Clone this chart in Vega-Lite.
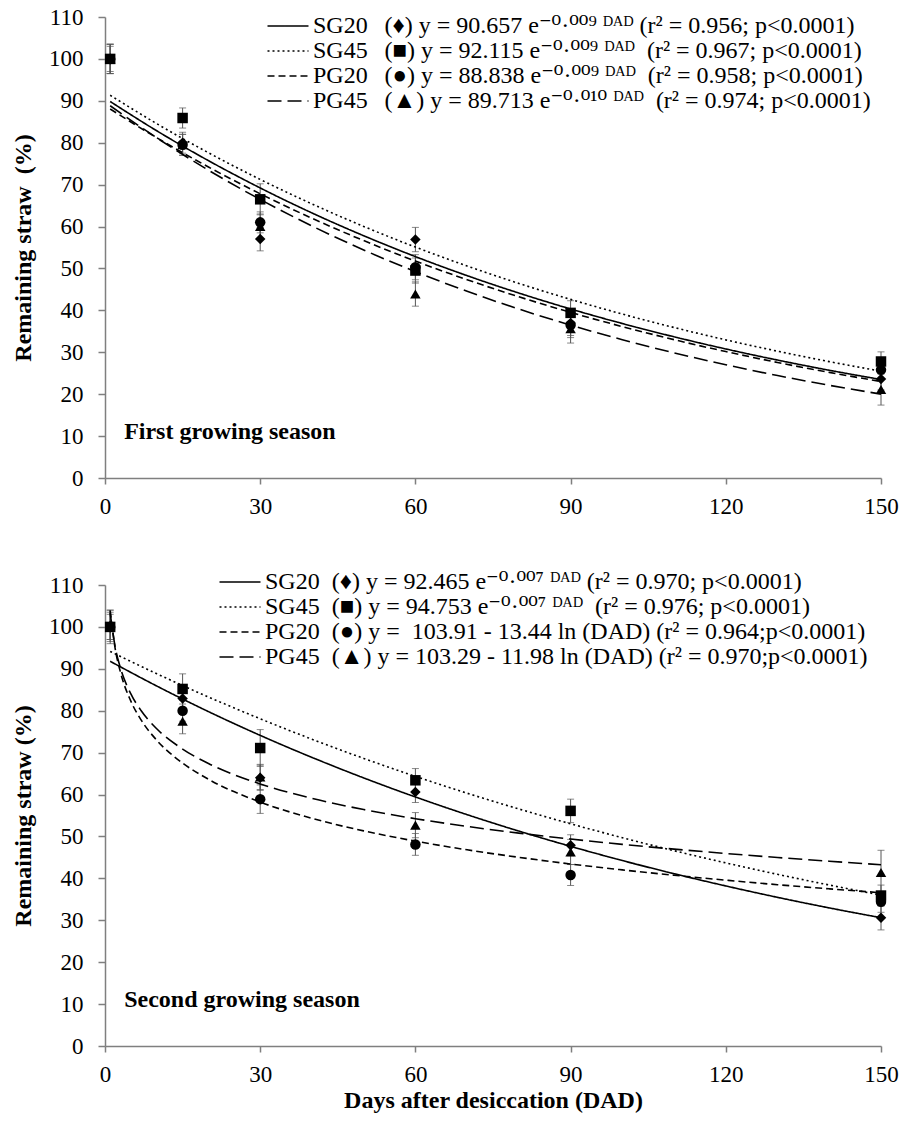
{
  "$schema": "https://vega.github.io/schema/vega-lite/v6.json",
  "autosize": {"type": "pad"},
  "padding": {"left": 11, "top": 6, "right": 5, "bottom": 5},
  "bounds": "flush",
  "spacing": 107,
  "background": "white",
  "config": {
    "view": {"stroke": null},
    "font": "'Liberation Serif', 'Times New Roman', serif",
    "axis": {"grid": false, "domainColor": "#7f7f7f", "domainWidth": 1.5, "tickColor": "#7f7f7f", "tickWidth": 1.5, "labelColor": "#000", "labelFont": "'Liberation Serif', 'Times New Roman', serif", "labelFontSize": 23, "titleFont": "'Liberation Serif', 'Times New Roman', serif", "titleFontSize": 24, "titleFontWeight": "bold", "titleColor": "#000"},
    "axisX": {"tickSize": 6, "labelPadding": 11, "labelFlush": false},
    "axisY": {"tickSize": 7, "labelPadding": 15, "titlePadding": 13},
    "legend": {"labelFont": "'Liberation Serif', 'DejaVu Serif', serif", "labelFontSize": 24, "labelColor": "#000", "labelLimit": 2000, "symbolType": "M-2.05,0H2.05", "symbolSize": 400, "symbolStrokeWidth": 1.6, "symbolStrokeColor": "#000", "labelOffset": 13, "rowPadding": 1, "padding": 0}
  },
  "datasets": {
    "curves": [
      {"panel":"First","series":"SG20","day":1,"value":89.84},{"panel":"First","series":"SG20","day":10,"value":82.85},{"panel":"First","series":"SG20","day":20,"value":75.72},{"panel":"First","series":"SG20","day":30,"value":69.21},{"panel":"First","series":"SG20","day":40,"value":63.25},{"panel":"First","series":"SG20","day":50,"value":57.81},{"panel":"First","series":"SG20","day":60,"value":52.83},{"panel":"First","series":"SG20","day":70,"value":48.28},{"panel":"First","series":"SG20","day":80,"value":44.13},{"panel":"First","series":"SG20","day":90,"value":40.33},{"panel":"First","series":"SG20","day":100,"value":36.86},{"panel":"First","series":"SG20","day":110,"value":33.69},{"panel":"First","series":"SG20","day":120,"value":30.79},{"panel":"First","series":"SG20","day":130,"value":28.14},{"panel":"First","series":"SG20","day":140,"value":25.71},{"panel":"First","series":"SG20","day":150,"value":23.50},
      {"panel":"First","series":"SG45","day":1,"value":91.33},{"panel":"First","series":"SG45","day":10,"value":84.55},{"panel":"First","series":"SG45","day":20,"value":77.61},{"panel":"First","series":"SG45","day":30,"value":71.24},{"panel":"First","series":"SG45","day":40,"value":65.40},{"panel":"First","series":"SG45","day":50,"value":60.03},{"panel":"First","series":"SG45","day":60,"value":55.10},{"panel":"First","series":"SG45","day":70,"value":50.58},{"panel":"First","series":"SG45","day":80,"value":46.43},{"panel":"First","series":"SG45","day":90,"value":42.62},{"panel":"First","series":"SG45","day":100,"value":39.12},{"panel":"First","series":"SG45","day":110,"value":35.91},{"panel":"First","series":"SG45","day":120,"value":32.96},{"panel":"First","series":"SG45","day":130,"value":30.26},{"panel":"First","series":"SG45","day":140,"value":27.77},{"panel":"First","series":"SG45","day":150,"value":25.49},
      {"panel":"First","series":"PG20","day":1,"value":88.04},{"panel":"First","series":"PG20","day":10,"value":81.19},{"panel":"First","series":"PG20","day":20,"value":74.20},{"panel":"First","series":"PG20","day":30,"value":67.82},{"panel":"First","series":"PG20","day":40,"value":61.98},{"panel":"First","series":"PG20","day":50,"value":56.65},{"panel":"First","series":"PG20","day":60,"value":51.77},{"panel":"First","series":"PG20","day":70,"value":47.31},{"panel":"First","series":"PG20","day":80,"value":43.24},{"panel":"First","series":"PG20","day":90,"value":39.52},{"panel":"First","series":"PG20","day":100,"value":36.12},{"panel":"First","series":"PG20","day":110,"value":33.01},{"panel":"First","series":"PG20","day":120,"value":30.17},{"panel":"First","series":"PG20","day":130,"value":27.57},{"panel":"First","series":"PG20","day":140,"value":25.20},{"panel":"First","series":"PG20","day":150,"value":23.03},
      {"panel":"First","series":"PG45","day":1,"value":88.82},{"panel":"First","series":"PG45","day":10,"value":81.18},{"panel":"First","series":"PG45","day":20,"value":73.45},{"panel":"First","series":"PG45","day":30,"value":66.46},{"panel":"First","series":"PG45","day":40,"value":60.14},{"panel":"First","series":"PG45","day":50,"value":54.41},{"panel":"First","series":"PG45","day":60,"value":49.24},{"panel":"First","series":"PG45","day":70,"value":44.55},{"panel":"First","series":"PG45","day":80,"value":40.31},{"panel":"First","series":"PG45","day":90,"value":36.47},{"panel":"First","series":"PG45","day":100,"value":33.00},{"panel":"First","series":"PG45","day":110,"value":29.86},{"panel":"First","series":"PG45","day":120,"value":27.02},{"panel":"First","series":"PG45","day":130,"value":24.45},{"panel":"First","series":"PG45","day":140,"value":22.12},{"panel":"First","series":"PG45","day":150,"value":20.02},
      {"panel":"Second","series":"SG20","day":1,"value":91.79},{"panel":"Second","series":"SG20","day":10,"value":85.90},{"panel":"Second","series":"SG20","day":20,"value":79.79},{"panel":"Second","series":"SG20","day":30,"value":74.12},{"panel":"Second","series":"SG20","day":40,"value":68.86},{"panel":"Second","series":"SG20","day":50,"value":63.97},{"panel":"Second","series":"SG20","day":60,"value":59.42},{"panel":"Second","series":"SG20","day":70,"value":55.20},{"panel":"Second","series":"SG20","day":80,"value":51.28},{"panel":"Second","series":"SG20","day":90,"value":47.64},{"panel":"Second","series":"SG20","day":100,"value":44.25},{"panel":"Second","series":"SG20","day":110,"value":41.11},{"panel":"Second","series":"SG20","day":120,"value":38.19},{"panel":"Second","series":"SG20","day":130,"value":35.47},{"panel":"Second","series":"SG20","day":140,"value":32.95},{"panel":"Second","series":"SG20","day":150,"value":30.61},
      {"panel":"Second","series":"SG45","day":1,"value":94.14},{"panel":"Second","series":"SG45","day":10,"value":88.83},{"panel":"Second","series":"SG45","day":20,"value":83.28},{"panel":"Second","series":"SG45","day":30,"value":78.08},{"panel":"Second","series":"SG45","day":40,"value":73.20},{"panel":"Second","series":"SG45","day":50,"value":68.63},{"panel":"Second","series":"SG45","day":60,"value":64.34},{"panel":"Second","series":"SG45","day":70,"value":60.32},{"panel":"Second","series":"SG45","day":80,"value":56.56},{"panel":"Second","series":"SG45","day":90,"value":53.02},{"panel":"Second","series":"SG45","day":100,"value":49.71},{"panel":"Second","series":"SG45","day":110,"value":46.60},{"panel":"Second","series":"SG45","day":120,"value":43.69},{"panel":"Second","series":"SG45","day":130,"value":40.96},{"panel":"Second","series":"SG45","day":140,"value":38.41},{"panel":"Second","series":"SG45","day":150,"value":36.01},
      {"panel":"Second","series":"PG20","day":1,"value":103.91},{"panel":"Second","series":"PG20","day":2,"value":94.59},{"panel":"Second","series":"PG20","day":3,"value":89.15},{"panel":"Second","series":"PG20","day":5,"value":82.28},{"panel":"Second","series":"PG20","day":7,"value":77.76},{"panel":"Second","series":"PG20","day":10,"value":72.96},{"panel":"Second","series":"PG20","day":15,"value":67.51},{"panel":"Second","series":"PG20","day":20,"value":63.65},{"panel":"Second","series":"PG20","day":30,"value":58.20},{"panel":"Second","series":"PG20","day":40,"value":54.33},{"panel":"Second","series":"PG20","day":50,"value":51.33},{"panel":"Second","series":"PG20","day":60,"value":48.88},{"panel":"Second","series":"PG20","day":70,"value":46.81},{"panel":"Second","series":"PG20","day":80,"value":45.02},{"panel":"Second","series":"PG20","day":90,"value":43.43},{"panel":"Second","series":"PG20","day":100,"value":42.02},{"panel":"Second","series":"PG20","day":110,"value":40.74},{"panel":"Second","series":"PG20","day":120,"value":39.57},{"panel":"Second","series":"PG20","day":130,"value":38.49},{"panel":"Second","series":"PG20","day":140,"value":37.50},{"panel":"Second","series":"PG20","day":150,"value":36.57},
      {"panel":"Second","series":"PG45","day":1,"value":103.29},{"panel":"Second","series":"PG45","day":2,"value":94.99},{"panel":"Second","series":"PG45","day":3,"value":90.13},{"panel":"Second","series":"PG45","day":5,"value":84.01},{"panel":"Second","series":"PG45","day":7,"value":79.98},{"panel":"Second","series":"PG45","day":10,"value":75.70},{"panel":"Second","series":"PG45","day":15,"value":70.85},{"panel":"Second","series":"PG45","day":20,"value":67.40},{"panel":"Second","series":"PG45","day":30,"value":62.54},{"panel":"Second","series":"PG45","day":40,"value":59.10},{"panel":"Second","series":"PG45","day":50,"value":56.42},{"panel":"Second","series":"PG45","day":60,"value":54.24},{"panel":"Second","series":"PG45","day":70,"value":52.39},{"panel":"Second","series":"PG45","day":80,"value":50.79},{"panel":"Second","series":"PG45","day":90,"value":49.38},{"panel":"Second","series":"PG45","day":100,"value":48.12},{"panel":"Second","series":"PG45","day":110,"value":46.98},{"panel":"Second","series":"PG45","day":120,"value":45.94},{"panel":"Second","series":"PG45","day":130,"value":44.98},{"panel":"Second","series":"PG45","day":140,"value":44.09},{"panel":"Second","series":"PG45","day":150,"value":43.26}
    ],
    "points": [
      {"panel":"First","series":"SG20","day":1,"value":100,"lo":96.5,"hi":103.5},{"panel":"First","series":"SG20","day":15,"value":80,"lo":77.5,"hi":82.5},{"panel":"First","series":"SG20","day":30,"value":57,"lo":54.2,"hi":59.8},{"panel":"First","series":"SG20","day":60,"value":56.9,"lo":54,"hi":59.8},{"panel":"First","series":"SG20","day":90,"value":37,"lo":34,"hi":40},{"panel":"First","series":"SG20","day":150,"value":23.6,"lo":21,"hi":26.2},
      {"panel":"First","series":"SG45","day":1,"value":100,"lo":96.5,"hi":103.5},{"panel":"First","series":"SG45","day":15,"value":85.9,"lo":83.5,"hi":88.3},{"panel":"First","series":"SG45","day":30,"value":66.5,"lo":62.8,"hi":70.2},{"panel":"First","series":"SG45","day":60,"value":49.5,"lo":46.5,"hi":52.5},{"panel":"First","series":"SG45","day":90,"value":39.4,"lo":36.5,"hi":42.3},{"panel":"First","series":"SG45","day":150,"value":27.8,"lo":25.5,"hi":30.1},
      {"panel":"First","series":"PG20","day":1,"value":100,"lo":97,"hi":103},{"panel":"First","series":"PG20","day":15,"value":79.5,"lo":77,"hi":82},{"panel":"First","series":"PG20","day":30,"value":61,"lo":58.5,"hi":63.5},{"panel":"First","series":"PG20","day":60,"value":50.3,"lo":47.3,"hi":53.3},{"panel":"First","series":"PG20","day":90,"value":36.5,"lo":33.5,"hi":39.5},{"panel":"First","series":"PG20","day":150,"value":25.8,"lo":23.5,"hi":28.1},
      {"panel":"First","series":"PG45","day":1,"value":100,"lo":96.5,"hi":103.5},{"panel":"First","series":"PG45","day":15,"value":79.5,"lo":77,"hi":82},{"panel":"First","series":"PG45","day":30,"value":60,"lo":57,"hi":63},{"panel":"First","series":"PG45","day":60,"value":43.9,"lo":41,"hi":46.8},{"panel":"First","series":"PG45","day":90,"value":35.6,"lo":32.2,"hi":39},{"panel":"First","series":"PG45","day":150,"value":21.1,"lo":17.4,"hi":24.8},
      {"panel":"Second","series":"SG20","day":1,"value":100,"lo":96.5,"hi":103.5},{"panel":"Second","series":"SG20","day":15,"value":82.9,"lo":80.4,"hi":85.4},{"panel":"Second","series":"SG20","day":30,"value":64,"lo":61,"hi":67},{"panel":"Second","series":"SG20","day":60,"value":60.6,"lo":58.1,"hi":63.1},{"panel":"Second","series":"SG20","day":90,"value":47.9,"lo":45.4,"hi":50.4},{"panel":"Second","series":"SG20","day":150,"value":30.6,"lo":27.7,"hi":33.5},
      {"panel":"Second","series":"SG45","day":1,"value":100,"lo":96,"hi":104},{"panel":"Second","series":"SG45","day":15,"value":85.2,"lo":81.6,"hi":88.8},{"panel":"Second","series":"SG45","day":30,"value":71.1,"lo":66.7,"hi":75.5},{"panel":"Second","series":"SG45","day":60,"value":63.4,"lo":60.6,"hi":66.2},{"panel":"Second","series":"SG45","day":90,"value":56.1,"lo":53.3,"hi":58.9},{"panel":"Second","series":"SG45","day":150,"value":35.9,"lo":33.4,"hi":38.4},
      {"panel":"Second","series":"PG20","day":1,"value":100,"lo":97,"hi":103},{"panel":"Second","series":"PG20","day":15,"value":80,"lo":77.5,"hi":82.5},{"panel":"Second","series":"PG20","day":30,"value":58.9,"lo":55.5,"hi":62.3},{"panel":"Second","series":"PG20","day":60,"value":48.1,"lo":45.5,"hi":50.7},{"panel":"Second","series":"PG20","day":90,"value":40.8,"lo":38.3,"hi":43.3},{"panel":"Second","series":"PG20","day":150,"value":34.4,"lo":31.9,"hi":36.9},
      {"panel":"Second","series":"PG45","day":1,"value":100.5,"lo":97,"hi":104},{"panel":"Second","series":"PG45","day":15,"value":77.5,"lo":74.5,"hi":80.5},{"panel":"Second","series":"PG45","day":30,"value":64.2,"lo":61.2,"hi":67.2},{"panel":"Second","series":"PG45","day":60,"value":52.7,"lo":49.7,"hi":55.7},{"panel":"Second","series":"PG45","day":90,"value":46.3,"lo":43.3,"hi":49.3},{"panel":"Second","series":"PG45","day":150,"value":41.4,"lo":36.1,"hi":46.7}
    ],
    "notes": [
      {"panel": "First", "label": "First growing season", "day": 3.7, "value": 11},
      {"panel": "Second", "label": "Second growing season", "day": 3.7, "value": 11}
    ]
  },
  "resolve": {"scale": {"strokeDash": "independent", "shape": "independent"}, "legend": {"strokeDash": "independent", "shape": "independent"}},
  "vconcat": [
    {
      "width": 776,
      "height": 461,
      "encoding": {
        "x": {"field": "day", "type": "quantitative", "scale": {"domain": [0, 150], "nice": false}, "axis": {"values": [0, 30, 60, 90, 120, 150], "title": null}},
        "y": {"field": "value", "type": "quantitative", "scale": {"domain": [0, 110], "nice": false}, "axis": {"values": [0, 10, 20, 30, 40, 50, 60, 70, 80, 90, 100, 110], "title": "Remaining straw\u2002(%)"}}
      },
      "layer": [
        {
          "data": {"name": "points"},
          "transform": [{"filter": "datum.panel == 'First'"}],
          "mark": {"type": "errorbar", "ticks": {"size": 7}, "color": "#555", "thickness": 1},
          "encoding": {
            "y": {"field": "lo", "type": "quantitative", "scale": {"domain": [0, 110], "nice": false}, "axis": {"values": [0, 10, 20, 30, 40, 50, 60, 70, 80, 90, 100, 110], "title": "Remaining straw\u2002(%)"}},
            "y2": {"field": "hi"}
          }
        },
        {
          "data": {"name": "curves"},
          "transform": [{"filter": "datum.panel == 'First'"}],
          "mark": {"type": "line", "color": "#000", "strokeWidth": 1.6, "interpolate": "monotone"},
          "encoding": {
            "detail": {"field": "series"},
            "strokeDash": {
              "field": "series", "type": "nominal",
              "scale": {"domain": ["SG20", "SG45", "PG20", "PG45"], "range": [[1, 0], [2, 3], [7, 4], [14, 6]]},
              "legend": {"title": null, "orient": "none", "legendX": 171, "legendY": -3, "symbolType": "M-2.05,0H2.05",
                "labelExpr": "datum.label == 'SG20' ? 'SG20\u2002\u2009(\u2666) y = 90.657 e\u207b\u2070\u00b7\u2070\u2070\u2079 \u1d30\u1d2c\u1d30 (r\u00b2 = 0.956; p<0.0001)' : datum.label == 'SG45' ? 'SG45\u2002\u2009(\u25a0) y = 92.115 e\u207b\u2070\u00b7\u2070\u2070\u2079 \u1d30\u1d2c\u1d30\u2002(r\u00b2 = 0.967; p<0.0001)' : datum.label == 'PG20' ? 'PG20\u2002\u2009(\u25cf) y = 88.838 e\u207b\u2070\u00b7\u2070\u2070\u2079 \u1d30\u1d2c\u1d30\u2002(r\u00b2 = 0.958; p<0.0001)' : 'PG45\u2002\u2009(\u25b2) y = 89.713 e\u207b\u2070\u00b7\u2070\u00b9\u2070 \u1d30\u1d2c\u1d30\u2002(r\u00b2 = 0.974; p<0.0001)'"}
            }
          }
        },
        {
          "data": {"name": "points"},
          "transform": [{"filter": "datum.panel == 'First'"}],
          "mark": {"type": "point", "filled": true, "color": "#000", "opacity": 1, "size": 110},
          "encoding": {
            "shape": {"field": "series", "type": "nominal", "scale": {"domain": ["PG45", "PG20", "SG45", "SG20"], "range": ["triangle-up", "circle", "square", "diamond"]}, "legend": null}
          }
        },
        {
          "data": {"name": "notes"},
          "transform": [{"filter": "datum.panel == 'First'"}],
          "mark": {"type": "text", "align": "left", "baseline": "middle", "fontWeight": "bold", "fontSize": 24, "font": "'Liberation Serif', 'Times New Roman', serif", "color": "#000"},
          "encoding": {
            "text": {"field": "label", "type": "nominal"}
          }
        }
      ]
    },
    {
      "width": 776,
      "height": 461,
      "encoding": {
        "x": {"field": "day", "type": "quantitative", "scale": {"domain": [0, 150], "nice": false}, "axis": {"values": [0, 30, 60, 90, 120, 150], "title": "Days after desiccation (DAD)", "titlePadding": 2}},
        "y": {"field": "value", "type": "quantitative", "scale": {"domain": [0, 110], "nice": false}, "axis": {"values": [0, 10, 20, 30, 40, 50, 60, 70, 80, 90, 100, 110], "title": "Remaining straw (%)"}}
      },
      "layer": [
        {
          "data": {"name": "points"},
          "transform": [{"filter": "datum.panel == 'Second'"}],
          "mark": {"type": "errorbar", "ticks": {"size": 7}, "color": "#555", "thickness": 1},
          "encoding": {
            "y": {"field": "lo", "type": "quantitative", "scale": {"domain": [0, 110], "nice": false}, "axis": {"values": [0, 10, 20, 30, 40, 50, 60, 70, 80, 90, 100, 110], "title": "Remaining straw (%)"}},
            "y2": {"field": "hi"}
          }
        },
        {
          "data": {"name": "curves"},
          "transform": [{"filter": "datum.panel == 'Second'"}],
          "mark": {"type": "line", "color": "#000", "strokeWidth": 1.6, "interpolate": "monotone"},
          "encoding": {
            "detail": {"field": "series"},
            "strokeDash": {
              "field": "series", "type": "nominal",
              "scale": {"domain": ["SG20", "SG45", "PG20", "PG45"], "range": [[1, 0], [2, 3], [7, 4], [14, 6]]},
              "legend": {"title": null, "orient": "none", "legendX": 123, "legendY": -15, "symbolType": "M-2.05,0H2.05",
                "labelExpr": "datum.label == 'SG20' ? 'SG20\u2002(\u2666) y = 92.465 e\u207b\u2070\u00b7\u2070\u2070\u2077 \u1d30\u1d2c\u1d30 (r\u00b2 = 0.970; p<0.0001)' : datum.label == 'SG45' ? 'SG45\u2002(\u25a0) y = 94.753 e\u207b\u2070\u00b7\u2070\u2070\u2077 \u1d30\u1d2c\u1d30\u2002(r\u00b2 = 0.976; p<0.0001)' : datum.label == 'PG20' ? 'PG20\u2002(\u25cf) y =\u2002103.91 - 13.44 ln (DAD) (r\u00b2 = 0.964;p<0.0001)' : 'PG45\u2002(\u25b2) y = 103.29 - 11.98 ln (DAD) (r\u00b2 = 0.970;p<0.0001)'"}
            }
          }
        },
        {
          "data": {"name": "points"},
          "transform": [{"filter": "datum.panel == 'Second'"}],
          "mark": {"type": "point", "filled": true, "color": "#000", "opacity": 1, "size": 110},
          "encoding": {
            "shape": {"field": "series", "type": "nominal", "scale": {"domain": ["PG45", "PG20", "SG45", "SG20"], "range": ["triangle-up", "circle", "square", "diamond"]}, "legend": null}
          }
        },
        {
          "data": {"name": "notes"},
          "transform": [{"filter": "datum.panel == 'Second'"}],
          "mark": {"type": "text", "align": "left", "baseline": "middle", "fontWeight": "bold", "fontSize": 24, "font": "'Liberation Serif', 'Times New Roman', serif", "color": "#000"},
          "encoding": {
            "text": {"field": "label", "type": "nominal"}
          }
        }
      ]
    }
  ]
}
